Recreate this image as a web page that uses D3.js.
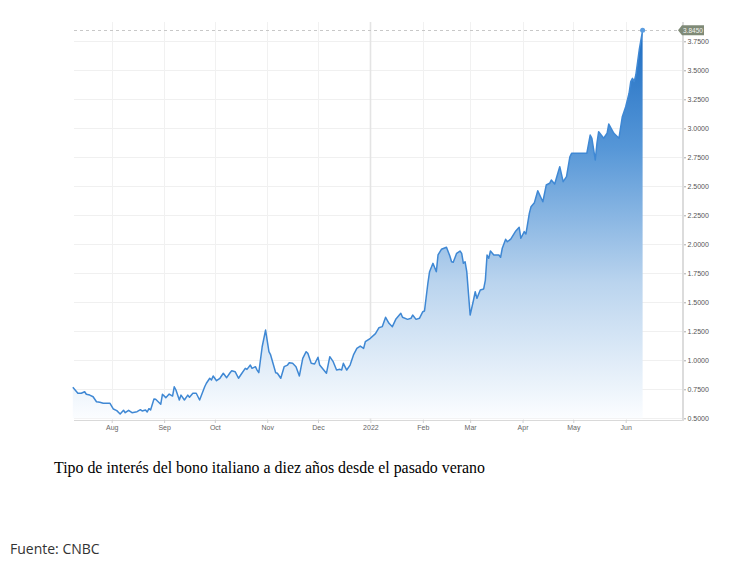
<!DOCTYPE html>
<html>
<head>
<meta charset="utf-8">
<script src="https://cdn.jsdelivr.net/npm/d3@7"></script>
<style>
  html, body { margin: 0; padding: 0; background: #fff; }
  svg { display: block; }
</style>
</head>
<body>
<svg id="chart" width="732" height="563"></svg>
<script>
// ---- Data ----
const dates = [
  "2021-07-09","2021-07-12","2021-07-14","2021-07-16","2021-07-17","2021-07-19","2021-07-21","2021-07-23","2021-07-25","2021-07-27",
  "2021-07-31","2021-08-02","2021-08-04","2021-08-06","2021-08-08","2021-08-09","2021-08-11","2021-08-13","2021-08-16","2021-08-18",
  "2021-08-19","2021-08-21","2021-08-22","2021-08-23","2021-08-24","2021-08-26","2021-08-27","2021-08-30","2021-08-31","2021-09-02",
  "2021-09-04","2021-09-06","2021-09-07","2021-09-08","2021-09-10","2021-09-11","2021-09-13","2021-09-15","2021-09-16","2021-09-18",
  "2021-09-20","2021-09-22","2021-09-25","2021-09-26","2021-09-28","2021-09-29","2021-09-30","2021-10-02","2021-10-04","2021-10-06",
  "2021-10-08","2021-10-10","2021-10-11","2021-10-13","2021-10-15","2021-10-17","2021-10-19","2021-10-20","2021-10-22","2021-10-23",
  "2021-10-25","2021-10-26","2021-10-27","2021-10-29","2021-10-31","2021-11-02","2021-11-03","2021-11-06","2021-11-07","2021-11-09",
  "2021-11-11","2021-11-13","2021-11-14","2021-11-16","2021-11-18","2021-11-20","2021-11-22","2021-11-24","2021-11-25","2021-11-27",
  "2021-11-29","2021-12-01","2021-12-02","2021-12-06","2021-12-08","2021-12-10","2021-12-12","2021-12-14","2021-12-15","2021-12-16",
  "2021-12-18","2021-12-20","2021-12-22","2021-12-24","2021-12-26","2021-12-28","2021-12-29","2022-01-01","2022-01-04","2022-01-06",
  "2022-01-08","2022-01-10","2022-01-12","2022-01-14","2022-01-16","2022-01-19","2022-01-20","2022-01-23","2022-01-25","2022-01-26",
  "2022-01-28","2022-01-30","2022-02-01","2022-02-02","2022-02-04","2022-02-05","2022-02-07","2022-02-09","2022-02-10","2022-02-12",
  "2022-02-15","2022-02-17","2022-02-18","2022-02-19","2022-02-21","2022-02-23","2022-02-24","2022-02-25","2022-02-26","2022-02-27",
  "2022-03-01","2022-03-03","2022-03-04","2022-03-05","2022-03-07","2022-03-09","2022-03-10","2022-03-11","2022-03-12","2022-03-13",
  "2022-03-15","2022-03-18","2022-03-19","2022-03-20","2022-03-22","2022-03-23","2022-03-25","2022-03-28","2022-03-30","2022-03-31",
  "2022-04-02","2022-04-03","2022-04-05","2022-04-06","2022-04-08","2022-04-10","2022-04-13","2022-04-15","2022-04-17","2022-04-18",
  "2022-04-20","2022-04-21","2022-04-23","2022-04-25","2022-04-27","2022-04-29","2022-04-30","2022-05-09","2022-05-11","2022-05-12",
  "2022-05-14","2022-05-15","2022-05-16","2022-05-19","2022-05-21","2022-05-22","2022-05-25","2022-05-28","2022-05-30","2022-06-01",
  "2022-06-03","2022-06-04","2022-06-05","2022-06-06","2022-06-07","2022-06-09","2022-06-11"
];
const yields = [
  0.767,0.716,0.716,0.729,0.707,0.700,0.686,0.643,0.638,0.629,
  0.629,0.580,0.566,0.537,0.569,0.548,0.569,0.548,0.557,0.574,
  0.563,0.572,0.554,0.583,0.572,0.666,0.664,0.621,0.707,0.678,
  0.709,0.692,0.772,0.744,0.658,0.700,0.658,0.700,0.681,0.716,
  0.716,0.658,0.772,0.802,0.845,0.830,0.865,0.824,0.845,0.888,
  0.850,0.893,0.910,0.902,0.845,0.888,0.931,0.922,0.959,0.931,
  0.945,0.916,0.893,1.117,1.261,1.074,1.046,0.893,0.888,0.845,
  0.945,0.959,0.979,0.974,0.945,0.865,1.017,1.074,1.060,0.974,
  0.968,1.026,0.959,0.888,1.031,0.988,0.916,0.922,0.916,0.974,
  0.916,0.959,1.046,1.103,1.123,1.103,1.160,1.190,1.230,1.280,
  1.290,1.371,1.319,1.290,1.353,1.405,1.371,1.353,1.362,1.390,
  1.353,1.362,1.419,1.425,1.664,1.764,1.836,1.764,1.908,1.957,
  1.974,1.899,1.850,1.845,1.922,1.942,1.922,1.836,1.850,1.764,
  1.390,1.520,1.591,1.534,1.606,1.615,1.692,1.908,1.879,1.942,
  1.908,1.908,1.888,1.966,2.043,2.022,2.045,2.115,2.147,2.052,
  2.109,2.089,2.267,2.324,2.359,2.462,2.367,2.511,2.526,2.554,
  2.520,2.569,2.669,2.540,2.583,2.755,2.784,2.784,2.942,2.914,
  2.727,2.871,2.971,2.914,2.957,3.037,2.957,2.914,3.100,3.186,
  3.302,3.402,3.431,3.402,3.459,3.675,3.845
];
const yTickValues = [0.5,0.75,1.0,1.25,1.5,1.75,2.0,2.25,2.5,2.75,3.0,3.25,3.5,3.75];
const xTickDates = ["2021-08-01","2021-09-01","2021-10-01","2021-11-01","2021-12-01","2022-01-01","2022-02-01","2022-03-01","2022-04-01","2022-05-01","2022-06-01"];
const xTickLabels = ["Aug","Sep","Oct","Nov","Dec","2022","Feb","Mar","Apr","May","Jun"];
const lastLabel = "3.8450";
const caption = "Tipo de interés del bono italiano a diez años desde el pasado verano";
const source = "Fuente: CNBC";

// ---- Drawing ----
const parse = d3.utcParse("%Y-%m-%d");
const data = dates.map((d, i) => ({ date: parse(d), value: yields[i] }));

const svg = d3.select("#chart");
const plotLeft = 74, plotRight = 682.5, plotTop = 22, plotBottom = 420;

const x = d3.scaleUtc()
  .domain([parse("2021-08-01"), parse("2022-06-01")])
  .range([111.7, 625.7]);
const y = d3.scaleLinear().domain([0.5, 3.75]).range([418.3, 41.3]);

// gradient
const defs = svg.append("defs");
const grad = defs.append("linearGradient")
  .attr("id", "areaGrad").attr("gradientUnits", "userSpaceOnUse")
  .attr("x1", 0).attr("x2", 0)
  .attr("y1", y(3.845)).attr("y2", y(0.5));
grad.append("stop").attr("offset", "0").attr("stop-color", "#1e6dc2");
grad.append("stop").attr("offset", "0.3").attr("stop-color", "#5596d7");
grad.append("stop").attr("offset", "0.65").attr("stop-color", "#bad4ee");
grad.append("stop").attr("offset", "1").attr("stop-color", "#fbfdff");

// horizontal grid
svg.append("g").selectAll("line").data(yTickValues).join("line")
  .attr("x1", plotLeft).attr("x2", plotRight)
  .attr("y1", d => Math.round(y(d)) + 0.5).attr("y2", d => Math.round(y(d)) + 0.5)
  .attr("stroke", "#f0f0f0").attr("stroke-width", 1);

// vertical grid
const xTicks = xTickDates.map(parse);
svg.append("g").selectAll("line").data(xTicks).join("line")
  .attr("x1", d => Math.round(x(d)) + 0.5).attr("x2", d => Math.round(x(d)) + 0.5)
  .attr("y1", plotTop).attr("y2", plotBottom)
  .attr("stroke", (d, i) => xTickLabels[i] === "2022" ? "#e4e4e4" : "#f1f1f1")
  .attr("stroke-width", (d, i) => xTickLabels[i] === "2022" ? 1.6 : 1);

// area + line
const area = d3.area().x(d => x(d.date)).y0(y(0.5)).y1(d => y(d.value)).curve(d3.curveLinear);
const line = d3.line().x(d => x(d.date)).y(d => y(d.value)).curve(d3.curveLinear);
svg.append("path").datum(data).attr("d", area).attr("fill", "url(#areaGrad)");
svg.append("path").datum(data).attr("d", line)
  .attr("fill", "none").attr("stroke", "#3f88d4").attr("stroke-width", 1.5)
  .attr("stroke-linejoin", "round");

// last value dashed line
const last = data[data.length - 1];
svg.append("line")
  .attr("x1", plotLeft).attr("x2", 678)
  .attr("y1", Math.round(y(last.value)) + 0.5).attr("y2", Math.round(y(last.value)) + 0.5)
  .attr("stroke", "#c8c8c8").attr("stroke-dasharray", "3,3").attr("stroke-width", 1);
svg.append("circle")
  .attr("cx", x(last.date)).attr("cy", y(last.value)).attr("r", 2.5)
  .attr("fill", "#5b9de0");

// x axis baseline
svg.append("line").attr("x1", plotLeft).attr("x2", plotRight)
  .attr("y1", plotBottom + 0.5).attr("y2", plotBottom + 0.5)
  .attr("stroke", "#d9d9d9").attr("stroke-width", 1);

// x axis ticks + labels
const xAxis = d3.axisBottom(x).tickValues(xTicks)
  .tickFormat((d, i) => xTickLabels[i]).tickSize(3).tickPadding(2);
const gx = svg.append("g").attr("transform", `translate(0,${plotBottom})`).call(xAxis);
gx.select(".domain").remove();
gx.selectAll(".tick line").attr("stroke", "#cfcfcf");
gx.selectAll(".tick text").attr("fill", "#666").attr("font-size", 7)
  .attr("font-family", "Arial, 'Liberation Sans', sans-serif");

// right axis line
svg.append("line").attr("x1", 683).attr("x2", 683)
  .attr("y1", plotTop).attr("y2", plotBottom + 1)
  .attr("stroke", "#dcdcdc").attr("stroke-width", 2);

// y axis ticks + labels
const yAxis = d3.axisRight(y).tickValues(yTickValues)
  .tickFormat(d3.format(".4f")).tickSize(2).tickPadding(1.5);
const gy = svg.append("g").attr("transform", "translate(684,0)").call(yAxis);
gy.select(".domain").remove();
gy.selectAll(".tick line").attr("stroke", "#aaa");
gy.selectAll(".tick text").attr("fill", "#555").attr("font-size", 7)
  .attr("font-family", "Arial, 'Liberation Sans', sans-serif");

// last value tag
const ty = y(last.value);
const tag = svg.append("g").attr("transform", `translate(678,${ty})`);
tag.append("path")
  .attr("d", "M0,0 L4,-5 L26,-5 L26,5 L4,5 Z")
  .attr("fill", "#7f8a77");
tag.append("text").attr("x", 15).attr("y", 2.4).attr("text-anchor", "middle")
  .attr("fill", "#f4f4f0").attr("font-size", 6.5)
  .attr("font-family", "Arial, 'Liberation Sans', sans-serif")
  .text(lastLabel);

// caption + source
svg.append("text").attr("x", 54).attr("y", 473)
  .attr("font-family", "'Liberation Serif', 'Times New Roman', serif")
  .attr("font-size", 15.9).attr("fill", "#000").text(caption);
svg.append("text").attr("x", 10).attr("y", 554)
  .attr("font-family", "'Open Sans', 'Noto Sans', sans-serif")
  .attr("font-size", 14).attr("fill", "#333").text(source);
</script>
</body>
</html>
